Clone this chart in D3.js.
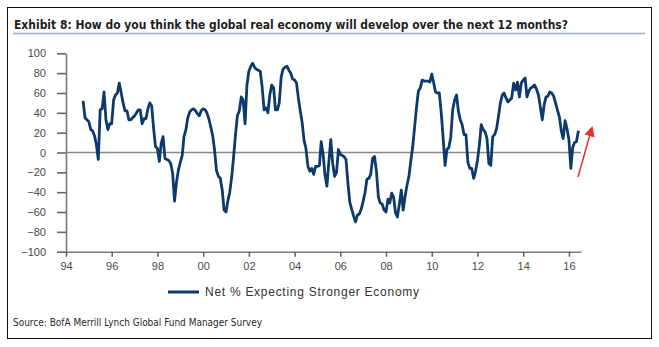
<!DOCTYPE html>
<html>
<head>
<meta charset="utf-8">
<script src="https://cdn.jsdelivr.net/npm/d3@7"></script>
<style>
  html, body { margin: 0; padding: 0; background: #fff; }
  svg { display: block; }
</style>
</head>
<body>
<script>
(function() {
  // monthly survey readings, first month Oct 1994
  const startMonth = new Date(1994, 9, 1);
  const netExpecting = [
    52, 35, 33,
    31, 23, 22, 17, 8, -7, 43, 44, 61, 33, 23, 29,
    29, 53, 58, 60, 70, 60, 50, 42, 42, 33, 33, 35,
    37, 40, 43, 43, 29, 34, 34, 44, 50, 47, 24, 6,
    4, -9, 9, 16, -6, -7, -8, -11, -21, -49, -30, -18,
    -10, -3, 16, 23, 35, 41, 43, 44, 42, 39, 37, 42,
    44, 43, 40, 34, 26, 17, 3, -18, -24, -26, -38, -58,
    -60, -48, -40, -25, -5, 18, 37, 42, 56, 53, 29, 68,
    82, 87, 90, 86, 84, 83, 82, 66, 43, 45, 40, 58,
    68, 65, 43, 43, 50, 76, 84, 86, 87, 83, 80, 74,
    73, 70, 55, 42, 30, 12, 4, -14, -19, -16, -22, -14,
    -14, -13, 11, -2, -23, -34, -10, 13, -11, -24, -20, 3,
    -2, -3, -4, -7, -30, -50, -57, -64, -70, -63, -62, -57,
    -49, -40, -27, -26, -22, -6, -4, -19, -45, -51, -52, -58,
    -60, -47, -51, -41, -45, -61, -65, -52, -38, -58, -44, -33,
    -24, -8, 5, 25, 45, 62, 65, 73, 72, 72, 72, 71,
    79, 70, 61, 60, 60, 40, 15, -13, 3, 5, 16, 43,
    53, 58, 42, 33, 28, 18, 18, -10, -16, -16, -26, -19,
    -8, 8, 28, 23, 21, 14, -11, -13, 16, 18, 24, 36,
    50, 58, 60, 55, 51, 53, 55, 70, 63, 71, 56, 70,
    73, 75, 56, 62, 65, 66, 68, 64, 58, 46, 33, 48,
    56, 57, 61, 60, 57, 50, 43, 36, 22, 14, 32, 24,
    13, -16, 5, 10, 11, 22
  ];
  const yTicks = [-100, -80, -60, -40, -20, 0, 20, 40, 60, 80, 100];
  const seriesName = 'Net % Expecting Stronger Economy';
  const title = 'Exhibit 8: How do you think the global real economy will develop over the next 12 months?';
  const source = 'Source: BofA Merrill Lynch Global Fund Manager Survey';

  const width = 659;
  const height = 347;
  const navy = '#0d3a6c';
  const axisGrey = '#7a7a7a';

  const data = netExpecting.map(function(v, i) {
    return { date: d3.timeMonth.offset(startMonth, i), value: v };
  });

  const svg = d3.select('body').append('svg').attr('width', width).attr('height', height);

  // outer frame
  svg.append('rect')
    .attr('x', 7.5).attr('y', 7.5)
    .attr('width', 644).attr('height', 331)
    .attr('fill', 'none').attr('stroke', '#111').attr('stroke-width', 1);

  // title: shrink the font until it fits its slot, then pin the width
  const titleWidth = 554;
  const titleText = svg.append('text')
    .attr('x', 14).attr('y', 29)
    .style('font-family', '"Liberation Sans Narrow", "DejaVu Sans Condensed", sans-serif')
    .style('font-weight', 'bold').style('font-size', '15px')
    .attr('fill', '#1e1e1e')
    .text(title);
  const natural = titleText.node().getComputedTextLength();
  if (natural > titleWidth) {
    titleText.style('font-size', (15 * titleWidth / natural).toFixed(2) + 'px');
  }
  titleText.attr('textLength', titleWidth).attr('lengthAdjust', 'spacing');

  svg.append('line')
    .attr('x1', 13).attr('x2', 645).attr('y1', 33.5).attr('y2', 33.5)
    .attr('stroke', '#9cb0cc').attr('stroke-width', 1.5);

  const xScale = d3.scaleTime()
    .domain([new Date(1994, 0, 1), new Date(2016, 6, 12)])
    .range([66, 581]);

  const yScale = d3.scaleLinear()
    .domain([-100, 100])
    .range([251.7, 53.3]);

  // x axis along the bottom
  const xAxis = svg.append('g')
    .attr('transform', 'translate(0,' + yScale(-100) + ')')
    .call(d3.axisBottom(xScale)
      .ticks(d3.timeYear.every(2))
      .tickFormat(d3.timeFormat('%y'))
      .tickSizeInner(5).tickSizeOuter(0).tickPadding(6));

  const yAxis = svg.append('g')
    .attr('transform', 'translate(' + xScale.range()[0] + ',0)')
    .call(d3.axisLeft(yScale)
      .tickValues(yTicks)
      .tickSizeInner(9).tickSizeOuter(0).tickPadding(11));

  [xAxis, yAxis].forEach(function(g) {
    g.select('.domain').attr('stroke', axisGrey).attr('stroke-width', 1.6);
    g.selectAll('.tick line').attr('stroke', '#666').attr('stroke-width', 1.6);
    g.selectAll('.tick text')
      .attr('fill', '#4a4a4a')
      .style('font-family', '"Liberation Sans", Arial, sans-serif')
      .style('font-size', '11px');
  });

  // zero line
  svg.append('line')
    .attr('x1', xScale.range()[0]).attr('x2', xScale.range()[1])
    .attr('y1', yScale(0)).attr('y2', yScale(0))
    .attr('stroke', '#8a8a8a').attr('stroke-width', 1.6);

  const line = d3.line()
    .x(function(d) { return xScale(d.date); })
    .y(function(d) { return yScale(d.value); });

  svg.append('path')
    .datum(data)
    .attr('d', line)
    .attr('fill', 'none')
    .attr('stroke', navy)
    .attr('stroke-width', 2.8)
    .attr('stroke-linejoin', 'round');

  // red arrow next to the latest reading
  const defs = svg.append('defs');
  defs.append('marker')
    .attr('id', 'arrowHead')
    .attr('viewBox', '0 0 10 10')
    .attr('refX', 5).attr('refY', 5)
    .attr('markerWidth', 7).attr('markerHeight', 7)
    .attr('orient', 'auto')
    .append('path')
    .attr('d', 'M0,0 L10,5 L0,10 Z')
    .attr('fill', '#e8312b');

  svg.append('line')
    .attr('x1', 578).attr('y1', 177)
    .attr('x2', 591).attr('y2', 131)
    .attr('stroke', '#e8312b').attr('stroke-width', 1.5)
    .attr('marker-end', 'url(#arrowHead)');

  // legend
  const legend = svg.append('g');
  legend.append('line')
    .attr('x1', 168).attr('x2', 199).attr('y1', 292).attr('y2', 292)
    .attr('stroke', navy).attr('stroke-width', 3);
  legend.append('text')
    .attr('x', 205).attr('y', 296)
    .attr('textLength', 214).attr('lengthAdjust', 'spacing')
    .style('font-family', '"Liberation Sans", Arial, sans-serif')
    .style('font-size', '12px')
    .attr('fill', '#333')
    .text(seriesName);

  svg.append('text')
    .attr('x', 13).attr('y', 326)
    .attr('textLength', 249).attr('lengthAdjust', 'spacingAndGlyphs')
    .style('font-family', '"Liberation Sans Narrow", "DejaVu Sans Condensed", sans-serif')
    .style('font-size', '11px')
    .attr('fill', '#2a2a2a')
    .text(source);
})();
</script>
</body>
</html>
